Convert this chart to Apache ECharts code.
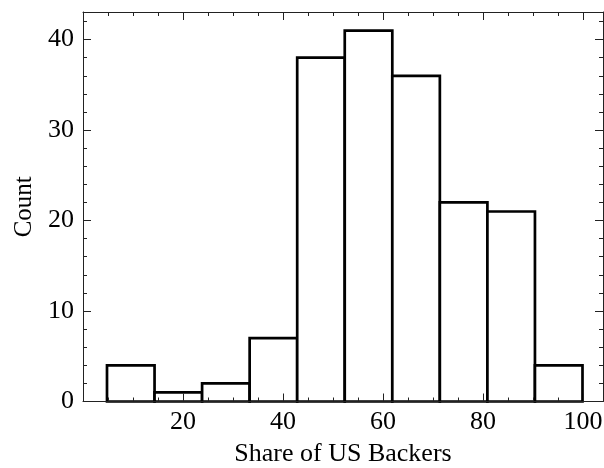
<!DOCTYPE html>
<html>
<head>
<meta charset="utf-8">
<script src="https://cdn.jsdelivr.net/npm/echarts@6/dist/echarts.min.js"></script>
<style>
  html, body { margin: 0; padding: 0; background: #fff; }
  #chart { width: 604px; height: 468px; }
</style>
</head>
<body>
<div id="chart"></div>
<script>
// Histogram of the share of US backers: 10 equal-width bins
const binEdges = [4.8, 14.31, 23.82, 33.33, 42.84, 52.35, 61.86, 71.37, 80.88, 90.39, 99.9];
const counts = [4, 1, 2, 7, 38, 41, 36, 22, 21, 4];
const xTickLabels = [20, 40, 60, 80, 100];
const yTickLabels = [0, 10, 20, 30, 40];

const FONT = '"Liberation Serif", "Times New Roman", serif';
const FONT_SIZE = 26;
const frameColor = '#222';

const bins = counts.map((c, i) => [binEdges[i], binEdges[i + 1], c]);

const tickStyle = { show: true, inside: true, length: 8, lineStyle: { color: frameColor, width: 1 } };
const minorStyle = { show: true, length: 4, lineStyle: { color: frameColor, width: 1 } };

const xBase = {
  type: 'value', min: 0, max: 104, interval: 20,
  axisLine: { show: true, onZero: false, lineStyle: { color: frameColor, width: 1 } },
  axisTick: tickStyle,
  minorTick: Object.assign({ splitNumber: 4 }, minorStyle),
  splitLine: { show: false },
  z: 10
};
const yBase = {
  type: 'value', min: 0, max: 43.05, interval: 10,
  axisLine: { show: true, onZero: false, lineStyle: { color: frameColor, width: 1 } },
  axisTick: tickStyle,
  minorTick: Object.assign({ splitNumber: 5 }, minorStyle),
  splitLine: { show: false },
  z: 10
};

const chart = echarts.init(document.getElementById('chart'), null, { renderer: 'canvas' });
chart.setOption({
  animation: false,
  backgroundColor: '#fff',
  grid: { left: 83, right: 1, top: 12, bottom: 66.5, containLabel: false, outerBoundsMode: 'none' },
  xAxis: [
    Object.assign({}, xBase, {
      position: 'bottom',
      name: 'Share of US Backers', nameLocation: 'middle', nameGap: 40,
      nameTextStyle: { fontFamily: FONT, fontSize: FONT_SIZE, color: '#000' },
      axisLabel: {
        show: true, margin: 8, showMaxLabel: false,
        fontFamily: FONT, fontSize: FONT_SIZE, color: '#000',
        formatter: v => (xTickLabels.indexOf(v) >= 0 ? String(v) : '')
      }
    }),
    Object.assign({}, xBase, { position: 'top', axisLabel: { show: false } })
  ],
  yAxis: [
    Object.assign({}, yBase, {
      position: 'left',
      name: 'Count', nameLocation: 'middle', nameGap: 46,
      nameTextStyle: { fontFamily: FONT, fontSize: 25, color: '#000' },
      axisLabel: {
        show: true, margin: 9, showMaxLabel: false,
        fontFamily: FONT, fontSize: FONT_SIZE, color: '#000',
        formatter: v => (yTickLabels.indexOf(v) >= 0 ? String(v) : '')
      }
    }),
    Object.assign({}, yBase, { position: 'right', axisLabel: { show: false } })
  ],
  series: [{
    type: 'custom',
    xAxisIndex: 0,
    yAxisIndex: 0,
    z: 2,
    data: bins,
    encode: { x: [0, 1], y: 2 },
    renderItem: function (params, api) {
      const top = api.coord([api.value(0), api.value(2)]);
      const base = api.coord([api.value(1), 0]);
      return {
        type: 'rect',
        shape: { x: top[0], y: top[1], width: base[0] - top[0], height: base[1] - top[1] },
        style: { fill: '#fff', stroke: '#000', lineWidth: 2.7 }
      };
    }
  }]
});
</script>
</body>
</html>
